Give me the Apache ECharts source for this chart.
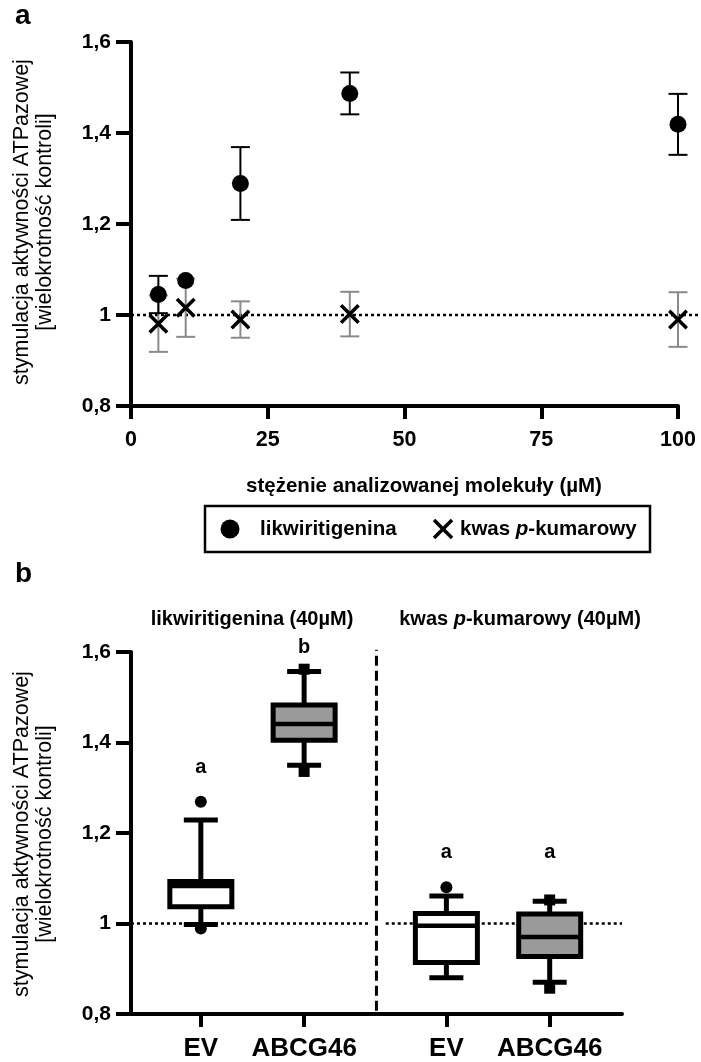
<!DOCTYPE html>
<html><head><meta charset="utf-8">
<script src="https://cdn.jsdelivr.net/npm/echarts@6/dist/echarts.min.js"></script>
<style>html,body{margin:0;padding:0;background:#fff}#c{width:701px;height:1062px}</style>
</head><body><div id="c"></div><script>
// ---------- data: panel a ----------
const concA = [5, 10, 20, 40, 100];
const likwMean = [1.045, 1.076, 1.289, 1.487, 1.419];
const likwSD   = [0.041, 0.008, 0.080, 0.046, 0.067];
const kwasMean = [0.981, 1.016, 0.990, 1.002, 0.990];
const kwasSD   = [0.062, 0.064, 0.040, 0.049, 0.060];
const xTicksA  = [0, 25, 50, 75, 100];
const yTicks   = [0.8, 1.0, 1.2, 1.4, 1.6];
const seriesNames = ['likwiritigenina', 'kwas p-kumarowy'];

// ---------- data: panel b ----------
const groupNames = ['likwiritigenina (40µM)', 'kwas p-kumarowy (40µM)'];
const boxCats = ['EV', 'ABCG46', 'EV', 'ABCG46'];
// [min, Q1, median, Q3, max]
const boxStats = [
  [0.998, 1.037, 1.083, 1.093, 1.229],
  [1.350, 1.405, 1.441, 1.483, 1.557],
  [0.880, 0.914, 0.995, 1.022, 1.061],
  [0.870, 0.927, 0.970, 1.021, 1.049]
];
const outliers = [[1.269, 0.989], [1.562, 1.336], [1.080], [1.052, 0.857]];
const sigLetters = ['a', 'b', 'a', 'a'];
const sigLevel = [1.345, 1.609, 1.158, 1.158];
const refLevel = 1.0;

// ---------- layout constants ----------
const FF = "'Liberation Sans', Arial, sans-serif";
const GROUP_STEP = 2.377;
const xMinB = -0.676, xMaxB = 4.077, dividerX = 1.70;
const boxPos = boxCats.map((_, k) => Math.floor(k / 2) * GROUP_STEP + (k % 2));
const X_PATH = 'path://M0,2.5L2.5,0L10,7.5L17.5,0L20,2.5L12.5,10L20,17.5L17.5,20L10,12.5L2.5,20L0,17.5L7.5,10Z';
const MARK_R = 8.5;
const fmt = v => (Math.round(v * 10) / 10).toString().replace('.', ',');

function yAxisCfg(gi) {
  return {
    type: 'value', gridIndex: gi, min: 0.8, max: 1.6, interval: 0.2,
    axisLine: { show: true, onZero: false, lineStyle: { color: '#000', width: 4 } },
    axisTick: { show: true, length: 15, lineStyle: { color: '#000', width: 4 } },
    axisLabel: { formatter: fmt, fontSize: 21, fontWeight: 'bold', color: '#000', margin: 20, fontFamily: FF },
    splitLine: { show: false }
  };
}

function errSeries(mean, sd, color, w, z) {
  return {
    type: 'custom', xAxisIndex: 0, yAxisIndex: 0, z: z, clip: false, silent: true,
    data: concA.map((x, i) => [x, mean[i] - sd[i], mean[i] + sd[i]]),
    renderItem: (p, api) => {
      const lo = api.coord([api.value(0), api.value(1)]);
      const hi = api.coord([api.value(0), api.value(2)]);
      // like the original software: bars shorter than the symbol are hidden
      if (Math.abs(lo[1] - hi[1]) / 2 < MARK_R) return { type: 'group', children: [] };
      const h = 9.5;
      const st = { stroke: color, lineWidth: w };
      return { type: 'group', children: [
        { type: 'line', shape: { x1: lo[0], y1: lo[1], x2: hi[0], y2: hi[1] }, style: st },
        { type: 'line', shape: { x1: lo[0] - h, y1: lo[1], x2: lo[0] + h, y2: lo[1] }, style: st },
        { type: 'line', shape: { x1: hi[0] - h, y1: hi[1], x2: hi[0] + h, y2: hi[1] }, style: st }
      ]};
    }
  };
}

const option = {
  animation: false,
  backgroundColor: '#fff',
  grid: [
    { left: 131, top: 42, width: 547, height: 364 },
    { left: 131, top: 652, width: 491, height: 364 }
  ],
  xAxis: [
    {
      type: 'value', gridIndex: 0, min: 0, max: 100, interval: 25,
      axisLine: { show: true, onZero: false, lineStyle: { color: '#000', width: 4 } },
      axisTick: { show: true, length: 13, lineStyle: { color: '#000', width: 4 } },
      axisLabel: { fontSize: 21.5, fontWeight: 'bold', color: '#000', margin: 23, fontFamily: FF },
      splitLine: { show: false }
    },
    {
      type: 'value', gridIndex: 1, min: xMinB, max: xMaxB,
      axisLine: { show: true, onZero: false, lineStyle: { color: '#000', width: 4 } },
      axisTick: { show: true, length: 13, lineStyle: { color: '#000', width: 4 }, customValues: boxPos },
      axisLabel: { fontSize: 26, fontWeight: 'bold', color: '#000', margin: 22, fontFamily: FF,
        customValues: boxPos,
        formatter: v => { const k = boxPos.findIndex(p => Math.abs(p - v) < 1e-6); return k >= 0 ? boxCats[k] : ''; } },
      splitLine: { show: false }
    }
  ],
  yAxis: [yAxisCfg(0), yAxisCfg(1)],
  series: [
    {
      type: 'custom', xAxisIndex: 0, yAxisIndex: 0, z: 1, clip: false, silent: true,
      data: [[0, refLevel, 104]],
      renderItem: (p, api) => {
        const a = api.coord([api.value(0), api.value(1)]);
        const b = api.coord([api.value(2), api.value(1)]);
        return { type: 'line', shape: { x1: a[0], y1: a[1], x2: b[0], y2: b[1] },
          style: { stroke: '#000', lineWidth: 2.5, lineDash: [3, 3] } };
      }
    },
    errSeries(kwasMean, kwasSD, '#8a8a8a', 2, 2),
    {
      name: seriesNames[1], type: 'scatter', xAxisIndex: 0, yAxisIndex: 0, z: 3,
      symbol: X_PATH, symbolSize: 20, itemStyle: { color: '#000', opacity: 1 },
      data: concA.map((x, i) => [x, kwasMean[i]])
    },
    errSeries(likwMean, likwSD, '#000', 2, 4),
    {
      name: seriesNames[0], type: 'scatter', xAxisIndex: 0, yAxisIndex: 0, z: 5,
      symbol: 'circle', symbolSize: MARK_R * 2, itemStyle: { color: '#000', opacity: 1 },
      data: concA.map((x, i) => [x, likwMean[i]])
    },
    {
      type: 'custom', xAxisIndex: 1, yAxisIndex: 1, z: 1, clip: false, silent: true,
      data: [[xMinB, refLevel, dividerX - 0.08], [dividerX + 0.09, refLevel, xMaxB]],
      renderItem: (p, api) => {
        const a = api.coord([api.value(0), api.value(1)]);
        const b = api.coord([api.value(2), api.value(1)]);
        return { type: 'line', shape: { x1: a[0], y1: a[1], x2: b[0], y2: b[1] },
          style: { stroke: '#000', lineWidth: 2.5, lineDash: [3, 3] } };
      }
    },
    {
      type: 'custom', xAxisIndex: 1, yAxisIndex: 1, z: 1, clip: false, silent: true,
      data: [[dividerX, 0.807, 1.605]],
      renderItem: (p, api) => {
        const a = api.coord([api.value(0), api.value(1)]);
        const b = api.coord([api.value(0), api.value(2)]);
        return { type: 'line', shape: { x1: a[0], y1: a[1], x2: b[0], y2: b[1] },
          style: { stroke: '#000', lineWidth: 3, lineDash: [10, 5] } };
      }
    },
    {
      type: 'custom', xAxisIndex: 1, yAxisIndex: 1, z: 3, clip: false, silent: true,
      data: boxStats.map((s, k) => [boxPos[k]].concat(s).concat([k % 2])),
      renderItem: (p, api) => {
        const x = api.value(0);
        const c = i => api.coord([x, api.value(i)]);
        const pMin = c(1), pQ1 = c(2), pMed = c(3), pQ3 = c(4), pMax = c(5);
        const fill = api.value(6) ? '#9a9a9a' : '#fff';
        const bw = 62, cw = 34, cx = pMin[0];
        const st = { stroke: '#000', lineWidth: 5 };
        return { type: 'group', children: [
          { type: 'line', shape: { x1: cx, y1: pMax[1], x2: cx, y2: pQ3[1] }, style: st },
          { type: 'line', shape: { x1: cx, y1: pQ1[1], x2: cx, y2: pMin[1] }, style: st },
          { type: 'line', shape: { x1: cx - cw / 2, y1: pMax[1], x2: cx + cw / 2, y2: pMax[1] }, style: st },
          { type: 'line', shape: { x1: cx - cw / 2, y1: pMin[1], x2: cx + cw / 2, y2: pMin[1] }, style: st },
          { type: 'rect', shape: { x: cx - bw / 2, y: pQ3[1], width: bw, height: pQ1[1] - pQ3[1] },
            style: { fill: fill, stroke: '#000', lineWidth: 5 } },
          { type: 'line', shape: { x1: cx - bw / 2, y1: pMed[1], x2: cx + bw / 2, y2: pMed[1] },
            style: { stroke: '#000', lineWidth: 4.5 } }
        ]};
      }
    },
    {
      type: 'scatter', xAxisIndex: 1, yAxisIndex: 1, z: 4, clip: false, silent: true,
      itemStyle: { color: '#000', opacity: 1 },
      data: outliers.flatMap((arr, k) => arr.map(v => ({
        value: [boxPos[k], v], symbol: k % 2 ? 'rect' : 'circle', symbolSize: k % 2 ? 11 : 12 })))
    },
    {
      type: 'custom', xAxisIndex: 1, yAxisIndex: 1, z: 5, clip: false, silent: true,
      data: sigLetters.map((t, k) => [boxPos[k], sigLevel[k], k]),
      renderItem: (p, api) => {
        const pt = api.coord([api.value(0), api.value(1)]);
        return { type: 'text', x: pt[0], y: pt[1],
          style: { text: sigLetters[api.value(2)], fontSize: 20, fontWeight: 'bold', fontFamily: FF,
            fill: '#000', align: 'center', verticalAlign: 'middle' } };
      }
    }
  ],
  graphic: [
    { type: 'text', x: 15, y: 2, style: { text: 'a', fontSize: 28, fontWeight: 'bold', fontFamily: FF, fill: '#000' } },
    { type: 'text', x: 15, y: 560, style: { text: 'b', fontSize: 28, fontWeight: 'bold', fontFamily: FF, fill: '#000' } },
    { type: 'text', x: 34, y: 222, rotation: Math.PI / 2,
      style: { text: 'stymulacja aktywności ATPazowej\n[wielokrotność kontroli]', fontSize: 21.5, lineHeight: 23,
        fontFamily: FF, fill: '#000', align: 'center', verticalAlign: 'middle' } },
    { type: 'text', x: 34, y: 834, rotation: Math.PI / 2,
      style: { text: 'stymulacja aktywności ATPazowej\n[wielokrotność kontroli]', fontSize: 21.5, lineHeight: 23,
        fontFamily: FF, fill: '#000', align: 'center', verticalAlign: 'middle' } },
    { type: 'text', x: 424, y: 486,
      style: { text: 'stężenie analizowanej molekuły (µM)', fontSize: 20.5, fontWeight: 'bold', fontFamily: FF,
        fill: '#000', align: 'center', verticalAlign: 'middle' } },
    { type: 'rect', shape: { x: 205, y: 506, width: 445, height: 46 }, style: { fill: '#fff', stroke: '#000', lineWidth: 2.5 } },
    { type: 'circle', shape: { cx: 230, cy: 529, r: 9.5 }, style: { fill: '#000' } },
    { type: 'text', x: 260, y: 529,
      style: { text: seriesNames[0], fontSize: 20.5, fontWeight: 'bold', fontFamily: FF, fill: '#000', verticalAlign: 'middle' } },
    { type: 'line', shape: { x1: 434, y1: 520, x2: 452, y2: 538 }, style: { stroke: '#000', lineWidth: 3.5 } },
    { type: 'line', shape: { x1: 452, y1: 520, x2: 434, y2: 538 }, style: { stroke: '#000', lineWidth: 3.5 } },
    { type: 'text', x: 460, y: 529,
      style: { text: '{n|kwas }{i|p}{n|-kumarowy}', verticalAlign: 'middle',
        rich: { n: { fontSize: 20.5, fontWeight: 'bold', fontFamily: FF, fill: '#000' },
                i: { fontSize: 20.5, fontWeight: 'bold', fontStyle: 'italic', fontFamily: FF, fill: '#000' } } } },
    { type: 'text', x: 252, y: 619,
      style: { text: groupNames[0], fontSize: 20, fontWeight: 'bold', fontFamily: FF, fill: '#000', align: 'center', verticalAlign: 'middle' } },
    { type: 'text', x: 520, y: 619,
      style: { text: '{n|kwas }{i|p}{n|-kumarowy (40µM)}', align: 'center', verticalAlign: 'middle',
        rich: { n: { fontSize: 20, fontWeight: 'bold', fontFamily: FF, fill: '#000' },
                i: { fontSize: 20, fontWeight: 'bold', fontStyle: 'italic', fontFamily: FF, fill: '#000' } } } }
  ]
};
const chart = echarts.init(document.getElementById('c'), null, { renderer: 'canvas' });
chart.setOption(option);
</script></body></html>
